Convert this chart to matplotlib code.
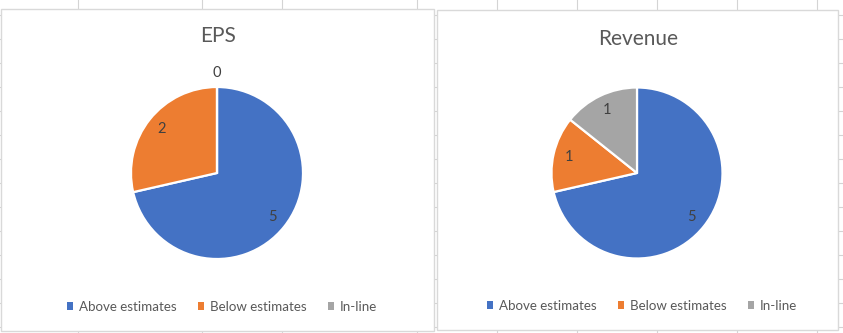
import matplotlib
matplotlib.use("Agg")
import matplotlib.pyplot as plt
from matplotlib.patches import Rectangle
from matplotlib.lines import Line2D
import numpy as np

# ---- data ----
categories = ["Above estimates", "Below estimates", "In-line"]
eps_counts = [5, 2, 0]
revenue_counts = [5, 1, 1]
chart_titles = ["EPS", "Revenue"]

colors = ["#4472C4", "#ED7D31", "#A5A5A5"]
FONT = "Lato"

W, H = 843, 333
fig = plt.figure(figsize=(W / 100, H / 100), dpi=100)
fig.patch.set_facecolor("white")


def px_rect(x0, y0, x1, y1):
    """Convert a pixel box (top-left origin) to figure fraction [l, b, w, h]."""
    return [x0 / W, (H - y1) / H, (x1 - x0) / W, (y1 - y0) / H]


# spreadsheet grid behind the charts
grid_color = "#d4d4d4"
for gx in [78, 202, 282, 417, 497, 577, 657, 737, 817]:
    fig.add_artist(Line2D([gx / W, gx / W], [0, 1], color=grid_color, lw=0.8,
                          transform=fig.transFigure, zorder=0))
for gy in range(15, H, 24):
    fig.add_artist(Line2D([0, 1], [(H - gy) / H, (H - gy) / H], color=grid_color,
                          lw=0.8, transform=fig.transFigure, zorder=0))

# chart frames
frames = [(1, 9, 434, 331), (437, 10, 838, 330)]
for (x0, y0, x1, y1) in frames:
    l, b, w, h = px_rect(x0, y0, x1, y1)
    fig.add_artist(Rectangle((l, b), w, h, transform=fig.transFigure,
                             facecolor="white", edgecolor="#d9d9d9", lw=1.0, zorder=1))

pie_geom = [((217, 173), 86), ((637, 173), 85.5)]
title_pos = [(218, 36), (638, 39)]
legend_pos = [(222, 307), (642, 306)]

for idx, values in enumerate([eps_counts, revenue_counts]):
    (cx, cy), r = pie_geom[idx]
    ax = fig.add_axes(px_rect(cx - r, cy - r, cx + r, cy + r), zorder=2)
    wedges, _ = ax.pie(values, colors=colors, startangle=90, counterclock=False,
                       radius=1.0, wedgeprops=dict(edgecolor="white", linewidth=1.6))
    # pie() resets the limits, so fix them afterwards to fill the axes box
    ax.set_xlim(-1, 1)
    ax.set_ylim(-1, 1)
    ax.set_aspect("equal")
    ax.axis("off")
    # data labels
    for wdg, v in zip(wedges, values):
        mid = np.deg2rad((wdg.theta1 + wdg.theta2) / 2)
        dist = 0.82 if v > 0 else 1.16
        ax.text(dist * np.cos(mid), dist * np.sin(mid), str(v), ha="center",
                va="center", fontsize=10.5, color="#404040", family=FONT)

    tx, ty = title_pos[idx]
    fig.text(tx / W, (H - ty) / H, chart_titles[idx], ha="center", va="center",
             fontsize=15, color="#595959", family=FONT, zorder=3)

    lx, ly = legend_pos[idx]
    leg = fig.legend(wedges, categories, loc="center", bbox_to_anchor=(lx / W, (H - ly) / H),
                     ncol=3, frameon=False, handlelength=0.5, handleheight=0.5,
                     handletextpad=0.45, columnspacing=1.55,
                     prop=dict(family=FONT, size=9.6))
    for t in leg.get_texts():
        t.set_color("#595959")
    for hnd in leg.legend_handles:
        hnd.set_edgecolor("none")

fig.savefig("out.png", dpi=100)
